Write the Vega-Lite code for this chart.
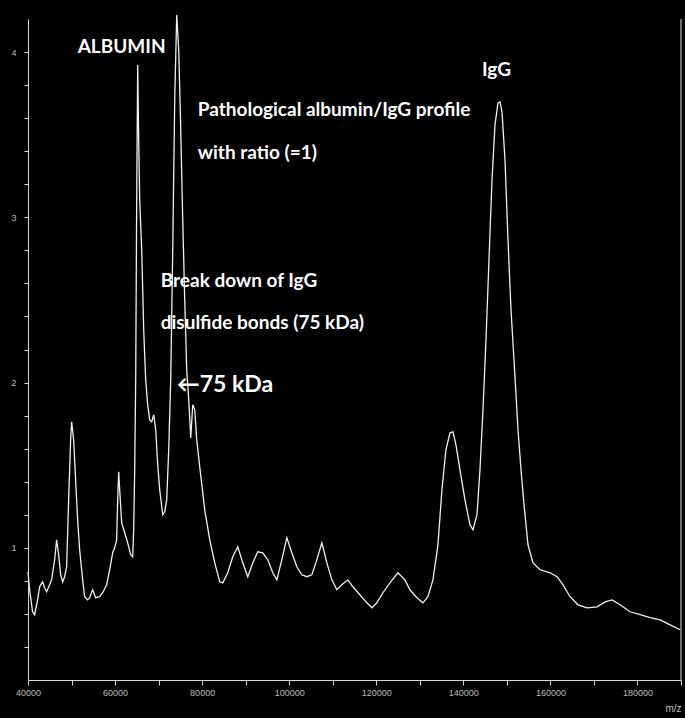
{
  "$schema": "https://vega.github.io/schema/vega-lite/v6.json",
  "width": 653,
  "height": 661,
  "autosize": "none",
  "padding": {"left": 28, "top": 19, "right": 4, "bottom": 38},
  "background": "#000000",
  "config": {
    "view": {"stroke": null},
    "axis": {"grid": false, "domainColor": "#d8d8d8", "tickColor": "#d8d8d8", "labelColor": "#bdbdbd", "labelFont": "Liberation Sans", "labelFontSize": 9, "titleColor": "#bdbdbd", "titleFont": "Liberation Sans", "titleFontWeight": "normal"}
  },
  "datasets": {
    "spectrum": [
      {"mz": 40000, "intensity": 0.855}, {"mz": 40368, "intensity": 0.746}, {"mz": 41058, "intensity": 0.613}, {"mz": 41517, "intensity": 0.595},
      {"mz": 42207, "intensity": 0.685}, {"mz": 42667, "intensity": 0.764}, {"mz": 43357, "intensity": 0.794}, {"mz": 43816, "intensity": 0.758},
      {"mz": 44276, "intensity": 0.734}, {"mz": 44966, "intensity": 0.776}, {"mz": 45426, "intensity": 0.806}, {"mz": 46115, "intensity": 0.927},
      {"mz": 46575, "intensity": 1.048}, {"mz": 47035, "intensity": 0.958}, {"mz": 47495, "intensity": 0.837}, {"mz": 47955, "intensity": 0.794},
      {"mz": 48414, "intensity": 0.825}, {"mz": 48874, "intensity": 0.885}, {"mz": 49334, "intensity": 1.29}, {"mz": 49794, "intensity": 1.653},
      {"mz": 50024, "intensity": 1.762}, {"mz": 50483, "intensity": 1.653}, {"mz": 50943, "intensity": 1.411}, {"mz": 51403, "intensity": 1.169},
      {"mz": 51863, "intensity": 0.988}, {"mz": 52553, "intensity": 0.806}, {"mz": 53012, "intensity": 0.704}, {"mz": 53702, "intensity": 0.685},
      {"mz": 54162, "intensity": 0.698}, {"mz": 54852, "intensity": 0.746}, {"mz": 55541, "intensity": 0.698}, {"mz": 56461, "intensity": 0.704},
      {"mz": 57151, "intensity": 0.728}, {"mz": 58070, "intensity": 0.776}, {"mz": 58760, "intensity": 0.867}, {"mz": 59450, "intensity": 0.97},
      {"mz": 59909, "intensity": 1.0}, {"mz": 60369, "intensity": 1.048}, {"mz": 60599, "intensity": 1.29}, {"mz": 60829, "intensity": 1.46},
      {"mz": 61059, "intensity": 1.351}, {"mz": 61519, "intensity": 1.151}, {"mz": 62208, "intensity": 1.091}, {"mz": 62898, "intensity": 1.03},
      {"mz": 63588, "intensity": 0.958}, {"mz": 64047, "intensity": 0.946}, {"mz": 64277, "intensity": 1.109}, {"mz": 64507, "intensity": 1.472},
      {"mz": 64737, "intensity": 2.016}, {"mz": 64967, "intensity": 3.105}, {"mz": 65197, "intensity": 3.922}, {"mz": 65427, "intensity": 3.468},
      {"mz": 65657, "intensity": 3.105}, {"mz": 66117, "intensity": 2.803}, {"mz": 66576, "intensity": 2.319}, {"mz": 67036, "intensity": 2.016},
      {"mz": 67496, "intensity": 1.865}, {"mz": 67956, "intensity": 1.774}, {"mz": 68416, "intensity": 1.762}, {"mz": 68875, "intensity": 1.805},
      {"mz": 69335, "intensity": 1.714}, {"mz": 69795, "intensity": 1.502}, {"mz": 70255, "intensity": 1.351}, {"mz": 70945, "intensity": 1.2},
      {"mz": 71404, "intensity": 1.218}, {"mz": 71864, "intensity": 1.29}, {"mz": 72324, "intensity": 1.593}, {"mz": 72784, "intensity": 2.016},
      {"mz": 73244, "intensity": 2.803}, {"mz": 73703, "intensity": 3.71}, {"mz": 74163, "intensity": 4.224}, {"mz": 74623, "intensity": 4.013},
      {"mz": 75083, "intensity": 3.529}, {"mz": 75543, "intensity": 2.984}, {"mz": 76002, "intensity": 2.5}, {"mz": 76462, "intensity": 2.077},
      {"mz": 76922, "intensity": 1.895}, {"mz": 77382, "intensity": 1.665}, {"mz": 77842, "intensity": 1.865}, {"mz": 78301, "intensity": 1.835},
      {"mz": 78761, "intensity": 1.653}, {"mz": 79451, "intensity": 1.49}, {"mz": 80600, "intensity": 1.23}, {"mz": 81750, "intensity": 1.048},
      {"mz": 82899, "intensity": 0.909}, {"mz": 84049, "intensity": 0.794}, {"mz": 84739, "intensity": 0.788}, {"mz": 85888, "intensity": 0.849},
      {"mz": 87038, "intensity": 0.946}, {"mz": 88187, "intensity": 1.006}, {"mz": 89337, "intensity": 0.909}, {"mz": 90486, "intensity": 0.825},
      {"mz": 91636, "intensity": 0.909}, {"mz": 92785, "intensity": 0.976}, {"mz": 93935, "intensity": 0.97}, {"mz": 95084, "intensity": 0.927},
      {"mz": 96234, "intensity": 0.849}, {"mz": 97153, "intensity": 0.806}, {"mz": 98303, "intensity": 0.927}, {"mz": 99452, "intensity": 1.061},
      {"mz": 100602, "intensity": 0.97}, {"mz": 101751, "intensity": 0.885}, {"mz": 102901, "intensity": 0.837}, {"mz": 104050, "intensity": 0.825},
      {"mz": 105200, "intensity": 0.837}, {"mz": 106349, "intensity": 0.927}, {"mz": 107499, "intensity": 1.03}, {"mz": 108648, "intensity": 0.909},
      {"mz": 109798, "intensity": 0.806}, {"mz": 110947, "intensity": 0.746}, {"mz": 112097, "intensity": 0.776}, {"mz": 113476, "intensity": 0.806},
      {"mz": 114626, "intensity": 0.764}, {"mz": 116235, "intensity": 0.716}, {"mz": 117844, "intensity": 0.667}, {"mz": 118994, "intensity": 0.637},
      {"mz": 120143, "intensity": 0.667}, {"mz": 121523, "intensity": 0.728}, {"mz": 123132, "intensity": 0.788}, {"mz": 124971, "intensity": 0.849},
      {"mz": 126580, "intensity": 0.806}, {"mz": 127730, "intensity": 0.746}, {"mz": 129339, "intensity": 0.698}, {"mz": 130719, "intensity": 0.667},
      {"mz": 131868, "intensity": 0.704}, {"mz": 133018, "intensity": 0.806}, {"mz": 134167, "intensity": 1.018}, {"mz": 135087, "intensity": 1.351},
      {"mz": 136006, "intensity": 1.593}, {"mz": 136926, "intensity": 1.696}, {"mz": 137616, "intensity": 1.702}, {"mz": 138305, "intensity": 1.623},
      {"mz": 139225, "intensity": 1.472}, {"mz": 140374, "intensity": 1.29}, {"mz": 141524, "intensity": 1.139}, {"mz": 142214, "intensity": 1.109},
      {"mz": 143133, "intensity": 1.2}, {"mz": 143823, "intensity": 1.472}, {"mz": 144513, "intensity": 1.835}, {"mz": 145202, "intensity": 2.258},
      {"mz": 145892, "intensity": 2.742}, {"mz": 146582, "intensity": 3.226}, {"mz": 147271, "intensity": 3.559}, {"mz": 147961, "intensity": 3.692},
      {"mz": 148421, "intensity": 3.698}, {"mz": 148881, "intensity": 3.638}, {"mz": 149570, "intensity": 3.347}, {"mz": 150260, "intensity": 2.863},
      {"mz": 150950, "intensity": 2.44}, {"mz": 151639, "intensity": 2.136}, {"mz": 152559, "intensity": 1.714}, {"mz": 153249, "intensity": 1.472},
      {"mz": 153938, "intensity": 1.26}, {"mz": 154858, "intensity": 1.018}, {"mz": 156008, "intensity": 0.909}, {"mz": 157617, "intensity": 0.867},
      {"mz": 159916, "intensity": 0.849}, {"mz": 161525, "intensity": 0.825}, {"mz": 162905, "intensity": 0.776}, {"mz": 164514, "intensity": 0.704},
      {"mz": 166353, "intensity": 0.655}, {"mz": 168422, "intensity": 0.637}, {"mz": 170721, "intensity": 0.643}, {"mz": 172560, "intensity": 0.673},
      {"mz": 174170, "intensity": 0.685}, {"mz": 176009, "intensity": 0.655}, {"mz": 178308, "intensity": 0.613}, {"mz": 180607, "intensity": 0.595},
      {"mz": 182906, "intensity": 0.577}, {"mz": 185205, "intensity": 0.564}, {"mz": 187504, "intensity": 0.534}, {"mz": 189806, "intensity": 0.504}
    ],
    "notes": [
      {"text": "ALBUMIN", "mz": 51403, "intensity": 4.03},
      {"text": "IgG", "mz": 144283, "intensity": 3.89},
      {"text": "Pathological albumin/IgG profile", "mz": 78991, "intensity": 3.65},
      {"text": "with ratio (=1)", "mz": 78991, "intensity": 3.39},
      {"text": "Break down of IgG", "mz": 70485, "intensity": 2.615},
      {"text": "disulfide bonds (75 kDa)", "mz": 70485, "intensity": 2.36}
    ],
    "arrow": [
      {"text": "←75 kDa", "mz": 74163, "intensity": 1.986}
    ],
    "frame": [
      {"mz": 190000, "intensity": 0.2, "top": 4.2}
    ]
  },
  "encoding": {
    "x": {
      "field": "mz", "type": "quantitative",
      "scale": {"domain": [40000, 190000], "nice": false, "zero": false},
      "axis": {
        "values": [40000, 50000, 60000, 70000, 80000, 90000, 100000, 110000, 120000, 130000, 140000, 150000, 160000, 170000, 180000, 190000],
        "labelExpr": "datum.value % 20000 === 0 && datum.value < 190000 ? format(datum.value, 'd') : ''",
        "labelFlush": false, "labelOverlap": false,
        "tickSize": 5, "labelPadding": 3,
        "title": "m/z", "titleAnchor": "end", "titleFontSize": 10, "titlePadding": 6
      }
    },
    "y": {
      "field": "intensity", "type": "quantitative",
      "scale": {"domain": [0.2, 4.2], "nice": false, "zero": false},
      "axis": {
        "values": [0.4, 0.6, 0.8, 1, 1.2, 1.4, 1.6, 1.8, 2, 2.2, 2.4, 2.6, 2.8, 3, 3.2, 3.4, 3.6, 3.8, 4],
        "labelExpr": "datum.value % 1 === 0 ? format(datum.value, 'd') : ''",
        "labelOverlap": false, "labelFlush": false,
        "tickSize": 4, "labelPadding": 8, "title": null
      }
    }
  },
  "layer": [
    {
      "data": {"name": "spectrum"},
      "mark": {"type": "line", "color": "#f0f0f0", "strokeWidth": 1.3, "clip": false}
    },
    {
      "data": {"name": "frame"},
      "mark": {"type": "rule", "color": "#d8d8d8", "strokeWidth": 1},
      "encoding": {
        "y2": {"field": "top"}
      }
    },
    {
      "data": {"name": "notes"},
      "mark": {"type": "text", "font": "Lato", "fontWeight": "bold", "fontSize": 19, "color": "#ffffff", "align": "left", "baseline": "middle"},
      "encoding": {
        "text": {"field": "text"}
      }
    },
    {
      "data": {"name": "arrow"},
      "mark": {"type": "text", "font": "Lato", "fontWeight": "bold", "fontSize": 23, "color": "#ffffff", "align": "left", "baseline": "middle"},
      "encoding": {
        "text": {"field": "text"}
      }
    }
  ]
}
